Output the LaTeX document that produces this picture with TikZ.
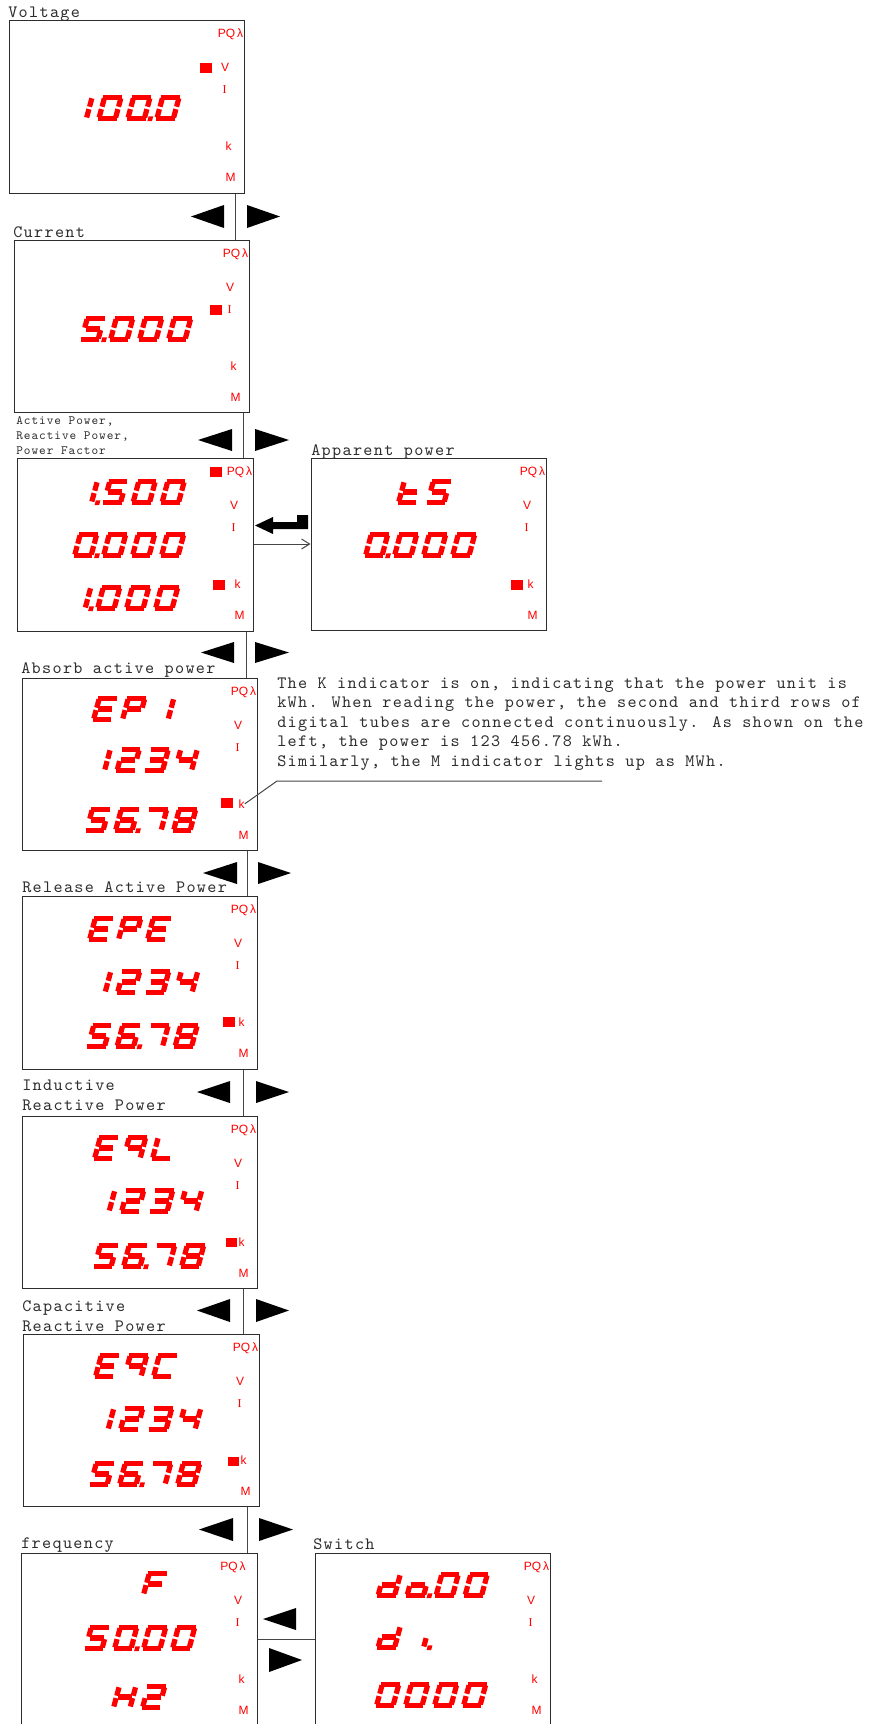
\documentclass[tikz,border=0pt]{standalone}
\usepackage{fontspec}
\setmainfont{Liberation Serif}
\newfontfamily\indfont{Liberation Sans}
\newfontfamily\lblfont{lmmono10-regular.otf}[LetterSpace=7.7]
\usetikzlibrary{fit,arrows.meta}
\definecolor{segred}{RGB}{255,0,0}
\definecolor{ink}{RGB}{45,45,45}
\definecolor{wirec}{RGB}{70,70,70}

\tikzset{
  panel/.style={draw=ink, line width=0.75pt, inner sep=0pt, fill=white},
  segl/.style={line width=3.9pt, draw=segred, line cap=butt},
  lbl/.style={font=\lblfont\fontsize{13}{15}\selectfont, text=ink, inner sep=0pt, anchor=base west},
  slbl/.style={font=\lblfont\fontsize{9.5}{11}\selectfont, text=ink, inner sep=0pt, anchor=base west},
  ind/.style={font=\indfont\fontsize{9}{10}\selectfont, text=segred, inner sep=0pt, anchor=base},
  wire/.style={draw=wirec, line width=0.75pt},
  navtri/.style={fill=black},
  lamp/.style={fill=segred},
}

\pgfkeys{/sev/.cd,
  a/.code={\draw[segl] (-1.1,-21) -- (17.6,-21);},
  b/.code={\draw[segl] (16.5,-20.1) -- (16.5,-11.7);},
  c/.code={\draw[segl] (16.5,-9.3) -- (16.5,-0.9);},
  d/.code={\draw[segl] (-1.1,0) -- (17.6,0);},
  e/.code={\draw[segl] (0,-0.9) -- (0,-9.3);},
  f/.code={\draw[segl] (0,-11.7) -- (0,-20.1);},
  g/.code={\draw[segl] (1.2,-10.5) -- (15.3,-10.5);},
  p/.code={\fill[segred] (20.2,2.6) rectangle (24.8,-2);},
}
\def\segparse#1{\ifx#1\relax\else\pgfkeys{/sev/#1}\expandafter\segparse\fi}
\newcommand\sevrow[3]{%
  \foreach \sc [count=\si from 0] in {#3}{%
    \begin{scope}[shift={({#1+29*\si+2.6},{#2-2.6})}, xslant=0.27]
      \expandafter\segparse\sc\relax
    \end{scope}}}
\newcommand\indic[4]{%
  \node[ind, anchor=base east] (#1-pq) at (#4,{#3+17.7}) {PQ\,λ};
  \node[ind] (#1-v) at ({#2-19},{#3+51.3}) {V};
  \node[ind] (#1-i) at ({#2-19.5},{#3+73.4}) {{\rmfamily I}};
  \node[ind] (#1-k) at ({#2-15.5},{#3+130.2}) {k};
  \node[ind] (#1-m) at ({#2-13.5},{#3+161.7}) {M};}
\newcommand\navpair[6]{%
  \fill[navtri] (#3,{(#1+#2)/2}) -- (#4,#1) -- (#4,#2) -- cycle;
  \fill[navtri] (#6,{(#1+#2)/2}) -- (#5,#1) -- (#5,#2) -- cycle;}

\begin{document}
\begin{tikzpicture}[x=0.75pt,y=-0.75pt]
\useasboundingbox (0,0) rectangle (874,1724);
\clip (0,0) rectangle (874,1724);
\fill[white] (0,0) rectangle (874,1724);

% panels
\node[panel, fit={(9,20) (244,193)}] (v) {};
\node[panel, fit={(14,240) (249,412)}] (c) {};
\node[panel, fit={(17.5,458) (253,631)}] (pw) {};
\node[panel, fit={(311,458) (546,630)}] (ap) {};
\node[panel, fit={(22,678) (257,850)}] (ab) {};
\node[panel, fit={(22,896) (257,1069)}] (re) {};
\node[panel, fit={(22,1116) (257,1288)}] (iq) {};
\node[panel, fit={(23,1334) (259,1506)}] (cq) {};
\node[panel, fit={(21,1553) (257,1740)}] (fr) {};
\node[panel, fit={(315,1553) (550,1740)}] (sw) {};

% labels
\node[lbl] (lv) at (8,17) {Voltage};
\node[lbl] (lc) at (13,237) {Current};
\node[slbl] (lp1) at (16,424) {Active Power,};
\node[slbl] (lp2) at (16,439) {Reactive Power,};
\node[slbl] (lp3) at (16,454) {Power Factor};
\node[lbl] (lap) at (311,455) {Apparent power};
\node[lbl] (lab) at (21,673) {Absorb active power};
\node[lbl] (lre) at (22,892) {Release Active Power};
\node[lbl] (liq1) at (22,1090) {Inductive};
\node[lbl] (liq2) at (22,1110) {Reactive Power};
\node[lbl] (lcq1) at (22,1311) {Capacitive};
\node[lbl] (lcq2) at (22,1331) {Reactive Power};
\node[lbl] (lfr) at (21,1548) {frequency};
\node[lbl] (lsw) at (313,1549) {Switch};

% description
\node[lbl] (d1) at (277,688) {The K indicator is on, indicating that the power unit is};
\node[lbl] (d2) at (277,707.5) {kWh. When reading the power, the second and third rows of};
\node[lbl] (d3) at (277,727) {digital tubes are connected continuously. As shown on the};
\node[lbl] (d4) at (277,746.5) {left, the power is 123 456.78 kWh.};
\node[lbl] (d5) at (277,766) {Similarly, the M indicator lights up as MWh.};

% indicators
\indic{v}{244}{20}{243.5}
\indic{c}{249}{240}{248.5}
\indic{pw}{253}{458}{252.5}
\indic{ap}{546}{458}{545.5}
\indic{ab}{257}{678}{256.5}
\indic{re}{257}{896}{256.5}
\indic{iq}{257}{1116}{256.5}
\indic{cq}{259}{1334}{258.5}
\indic{fr}{257}{1553}{246}
\indic{sw}{550}{1553}{549.5}

% lamps
\fill[lamp] (200,63) rectangle (212,73);
\fill[lamp] (210,305) rectangle (222,315);
\fill[lamp] (210,467) rectangle (222,477);
\fill[lamp] (213,580) rectangle (225,590);
\fill[lamp] (511,580) rectangle (523,590);
\fill[lamp] (221,798) rectangle (233,808);
\fill[lamp] (223,1017) rectangle (235,1027);
\fill[lamp] (226,1238) rectangle (237,1247);
\fill[lamp] (228,1457) rectangle (239,1466);

% seven-segment readings
\sevrow{67.3}{121}{bc,abcdef,abcdefp,abcdef}
\sevrow{79}{342}{acdfgp,abcdef,abcdef,abcdef}
\sevrow{72.5}{505}{bcp,acdfg,abcdef,abcdef}
\sevrow{72}{558}{abcdefp,abcdef,abcdef,abcdef}
\sevrow{66}{611}{bcp,abcdef,abcdef,abcdef}
\sevrow{396}{505}{defg,acdfg}
\sevrow{363}{558}{abcdefp,abcdef,abcdef,abcdef}
\sevrow{91}{722}{adefg,abefg,bc}
\sevrow{85.5}{773}{bc,abdeg,abcdg,bcfg}
\sevrow{84}{833}{acdfg,acdefgp,abc,abcdefg}
\sevrow{87}{942}{adefg,abefg,adefg}
\sevrow{86}{995}{bc,abdeg,abcdg,bcfg}
\sevrow{85.5}{1049}{acdfg,acdefgp,abc,abcdefg}
\sevrow{92}{1161}{adefg,abcfg,def}
\sevrow{90}{1214}{bc,abdeg,abcdg,bcfg}
\sevrow{92}{1269}{acdfg,acdefgp,abc,abcdefg}
\sevrow{93}{1379}{adefg,abcfg,adef}
\sevrow{89}{1432}{bc,abdeg,abcdg,bcfg}
\sevrow{88}{1487}{acdfg,acdefgp,abc,abcdefg}
\sevrow{141}{1597}{aefg}
\sevrow{83}{1651}{acdfg,abcdefp,abcdef,abcdef}
\sevrow{111}{1710}{bcefg,abdeg}
\sevrow{375.5}{1598}{bcdeg,cdegp,abcdef,abcdef}
\sevrow{375.5}{1650}{bcdeg,cp}
\sevrow{374}{1708}{abcdef,abcdef,abcdef,abcdef}

% connector positions
\coordinate (x1) at (235,0);
\coordinate (x2) at (243,0);
\coordinate (x3) at (246,0);
\coordinate (x4) at (247,0);
\coordinate (x5) at (243,0);
\coordinate (x6) at (243,0);
\coordinate (x7) at (247,0);
\coordinate (ya) at (0,544);
\coordinate (yb) at (0,1639);

\draw[wire] (v.south -| x1) -- (c.north -| x1);
\draw[wire] (c.south -| x2) -- (pw.north -| x2);
\draw[wire] (pw.south -| x3) -- (ab.north -| x3);
\draw[wire] (ab.south -| x4) -- (re.north -| x4);
\draw[wire] (re.south -| x5) -- (iq.north -| x5);
\draw[wire] (iq.south -| x6) -- (cq.north -| x6);
\draw[wire] (cq.south -| x7) -- (fr.north -| x7);
\draw[wire] (fr.east |- yb) -- (sw.west |- yb);
\draw[wire, -{Straight Barb[length=6pt,width=7.5pt]}] (pw.east |- ya) -- (ap.west |- ya);

% leader to description
\coordinate (ld1) at (277,781);
\coordinate (ld2) at (602,781);
\draw[wire] (ab-k.east) -- (ld1) -- (ld2);

% navigation triangles
\navpair{205}{228}{191}{224}{247}{280}
\navpair{429}{451}{198}{232}{255}{289}
\navpair{642}{663}{201}{234}{255}{289}
\navpair{862}{884}{203}{237}{258}{291}
\navpair{1081}{1103}{197}{230}{256}{289}
\navpair{1299}{1322}{197}{230}{256}{289}
\navpair{1518}{1541}{199}{233}{259}{293}
\fill[navtri] (263,1619) -- (296,1608) -- (296,1630) -- cycle;
\fill[navtri] (302,1660) -- (269,1648) -- (269,1672) -- cycle;

% return (enter) arrow
\fill[navtri] (255,525.5) -- (273,517) -- (273,522) -- (297,522) -- (297,515)
  -- (308,515) -- (308,529) -- (273,529) -- (273,534) -- cycle;
\end{tikzpicture}
\end{document}
